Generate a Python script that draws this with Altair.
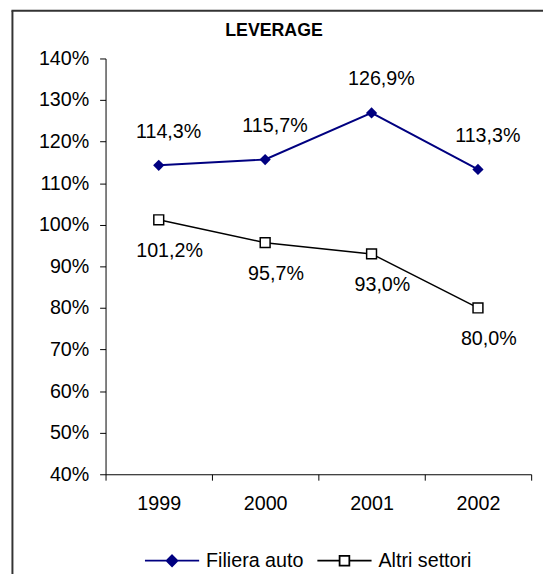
import altair as alt
import pandas as pd

# ---- data ----
years = ["1999", "2000", "2001", "2002"]
series_names = ["Filiera auto", "Altri settori"]
filiera_auto = [114.3, 115.7, 126.9, 113.3]
altri_settori = [101.2, 95.7, 93.0, 80.0]
y_ticks = [40, 50, 60, 70, 80, 90, 100, 110, 120, 130, 140]
chart_title = "LEVERAGE"

df = pd.DataFrame({
    "year": years * 2,
    "series": [series_names[0]] * len(years) + [series_names[1]] * len(years),
    "value": filiera_auto + altri_settori,
})

FONT = "Liberation Sans"
NAVY = "#000080"
BLACK = "#000000"

x_enc = alt.X(
    "year:N", sort=years,
    scale=alt.Scale(paddingInner=0, paddingOuter=0),
    axis=alt.Axis(title=None, labelAngle=0, tickBand="extent", grid=False,
                  labelFont=FONT, labelFontSize=20, labelColor="#000",
                  domainColor="#000", tickColor="#000", tickSize=6,
                  labelPadding=14, domainWidth=1),
)
y_enc = alt.Y(
    "value:Q",
    scale=alt.Scale(domain=[40, 140], nice=False, zero=False),
    axis=alt.Axis(title=None, values=y_ticks, labelExpr="datum.value + '%'",
                  grid=False, labelFont=FONT, labelFontSize=20, labelColor="#000",
                  domainColor="#000", tickColor="#000", tickSize=6,
                  labelPadding=11, domainWidth=1),
)

base = alt.Chart(df).transform_calculate(
    label="replace(format(datum.value, '.1f'), '.', ',') + '%'"
)

f_base = base.transform_filter(alt.datum.series == series_names[0])
a_base = base.transform_filter(alt.datum.series == series_names[1])

line_f = f_base.mark_line(color=NAVY, strokeWidth=2).encode(x=x_enc, y=y_enc)
line_a = a_base.mark_line(color=BLACK, strokeWidth=1.5).encode(x=x_enc, y=y_enc)

pts_f = f_base.mark_point(shape="diamond", filled=True, color=NAVY, size=130,
                          opacity=1).encode(x=x_enc, y=y_enc)
pts_a = a_base.mark_point(shape="square", filled=True, fill="white", stroke=BLACK,
                          strokeWidth=1.5, size=100, opacity=1).encode(x=x_enc, y=y_enc)

txt_f = f_base.mark_text(font=FONT, fontSize=20, color="#000", dx=10, dy=-34).encode(
    x=x_enc, y=y_enc, text="label:N")
txt_a = a_base.mark_text(font=FONT, fontSize=20, color="#000", dx=11, dy=32).encode(
    x=x_enc, y=y_enc, text="label:N")

# legend: symbol = line with marker drawn as a custom path
path_f = "M-1,0H1M0,-0.2L0.2,0L0,0.2L-0.2,0Z"
path_a = "M-1,0H-0.18M0.18,0H1M-0.18,-0.18H0.18V0.18H-0.18Z"

legend_layer = base.mark_point(filled=True, opacity=0).encode(
    x=x_enc, y=y_enc,
    fill=alt.Fill("series:N", scale=alt.Scale(domain=series_names, range=[NAVY, "white"]),
                  legend=alt.Legend(title=None)),
    stroke=alt.Stroke("series:N", scale=alt.Scale(domain=series_names, range=[NAVY, BLACK]),
                      legend=alt.Legend(title=None)),
    shape=alt.Shape("series:N", scale=alt.Scale(domain=series_names, range=[path_f, path_a]),
                    legend=alt.Legend(title=None)),
)

one_row = pd.DataFrame({"t": [chart_title]})
border_left = alt.Chart(one_row).mark_rule(color="#333", strokeWidth=2).encode(
    x=alt.value(-94.5), y=alt.value(-48.5), y2=alt.value(600))
border_top = alt.Chart(one_row).mark_rule(color="#333", strokeWidth=2).encode(
    x=alt.value(-95.5), x2=alt.value(600), y=alt.value(-48.5))
title_mark = alt.Chart(one_row).mark_text(
    font=FONT, fontSize=18, fontWeight="bold", color="#000", baseline="middle"
).encode(text="t:N", x=alt.value(171), y=alt.value(-28))

chart = alt.layer(
    border_left, border_top, title_mark,
    line_a, line_f, pts_a, pts_f, txt_f, txt_a, legend_layer,
).properties(
    width=432, height=422,
    autosize=alt.AutoSizeParams(type="none"),
    padding={"left": 99, "top": 47, "right": 12, "bottom": 97},
).configure_view(stroke=None).configure_legend(
    orient="none", legendX=39, legendY=481, direction="horizontal",
    symbolSize=3025, symbolStrokeWidth=1.8, symbolOpacity=1,
    labelFont=FONT, labelFontSize=20, labelColor="#000", labelOffset=6,
    columnPadding=10, padding=0, labelLimit=300,
)

chart.save("out.html", embed_options={"renderer": "svg", "actions": False})
